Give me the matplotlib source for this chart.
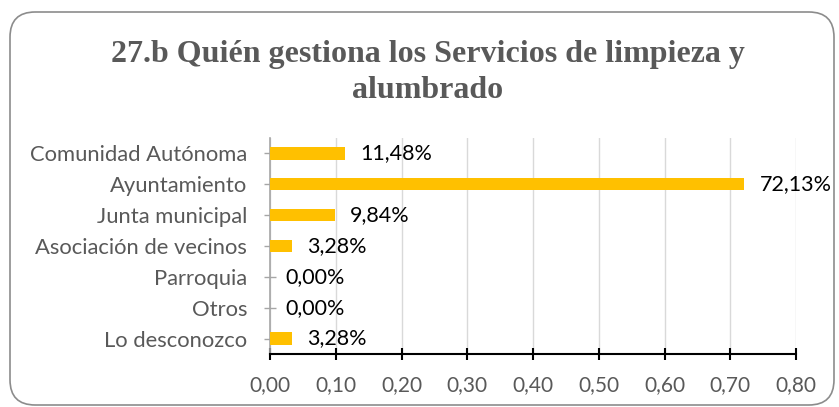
import matplotlib
matplotlib.use("Agg")
import matplotlib.pyplot as plt
from matplotlib.patches import FancyBboxPatch
from matplotlib.ticker import FuncFormatter

categorias = ["Comunidad Autónoma", "Ayuntamiento", "Junta municipal",
              "Asociación de vecinos", "Parroquia", "Otros", "Lo desconozco"]
valores = [0.1148, 0.7213, 0.0984, 0.0328, 0.0, 0.0, 0.0328]
etiquetas = ["11,48%", "72,13%", "9,84%", "3,28%", "0,00%", "0,00%", "3,28%"]
ticks_x = [0.0, 0.1, 0.2, 0.3, 0.4, 0.5, 0.6, 0.7, 0.8]

fig = plt.figure(figsize=(8.39, 4.07), dpi=100)

# marco redondeado del grafico
marco = FancyBboxPatch((10/839, 2/407), 824/839, 393/407,
                       boxstyle="round,pad=0,rounding_size=0.03",
                       transform=fig.transFigure, facecolor="none",
                       edgecolor="#8c8c8c", linewidth=1.2, mutation_aspect=839/407,
                       zorder=-1)
fig.patches.append(marco)

fig.text(0.51, 0.822, "27.b Quién gestiona los Servicios de limpieza y\nalumbrado",
         ha="center", va="center", fontsize=23, fontweight="bold",
         family="Liberation Serif", color="#595959", linespacing=1.3)

ax = fig.add_axes([270/839, 1 - 354/407, 526/839, 216/407])
y = list(range(len(categorias)))
ax.barh(y, valores, height=0.4, color="#FFC000", zorder=3)
ax.set_ylim(len(categorias) - 0.5, -0.5)
ax.set_xlim(0, 0.8)
ax.set_xticks(ticks_x)
ax.xaxis.set_major_formatter(FuncFormatter(lambda v, p: f"{v:.2f}".replace(".", ",")))
ax.set_yticks(y)
ax.set_yticklabels(categorias)

for yi, v, t in zip(y, valores, etiquetas):
    ax.annotate(t, (v, yi), xytext=(11, 0), textcoords="offset points",
                va="center", ha="left", fontsize=15.5, family="Lato", color="black")

ax.grid(axis="x", color="#d9d9d9", linewidth=1, zorder=0)
for s in ["top", "right"]:
    ax.spines[s].set_visible(False)
ax.spines["bottom"].set_color("black")
ax.spines["bottom"].set_linewidth(1.5)
ax.spines["left"].set_color("#a6a6a6")
ax.spines["left"].set_linewidth(1.2)
ax.tick_params(axis="x", direction="inout", length=9, width=1.5, color="black",
               labelcolor="#595959", labelsize=15, pad=11)
ax.tick_params(axis="y", direction="inout", length=9, width=1, color="#a6a6a6",
               labelcolor="#595959", labelsize=15.8, pad=12)
for lab in ax.get_xticklabels() + ax.get_yticklabels():
    lab.set_family("Lato")

fig.savefig("out.png", dpi=100)
